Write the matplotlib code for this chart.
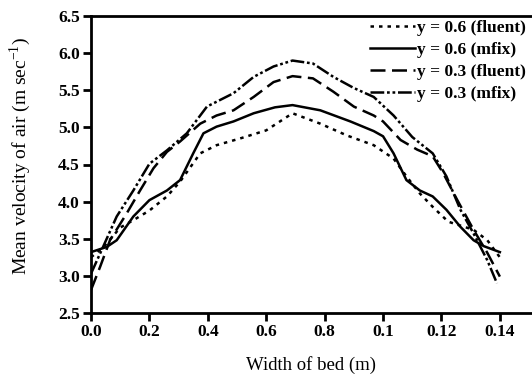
import numpy as np
import matplotlib.pyplot as plt

plt.rcParams["font.family"] = ["Liberation Serif", "DejaVu Serif"]
plt.rcParams["mathtext.fontset"] = "custom"
plt.rcParams["mathtext.rm"] = "Liberation Serif"

# bed width (m) and mean air velocity (m/s) for each case
x_f06 = [0.0, 0.0043, 0.01, 0.0145, 0.02, 0.026, 0.0305, 0.0374, 0.043, 0.051,
         0.06, 0.069, 0.0785, 0.0877, 0.0968, 0.1036, 0.108, 0.1126, 0.117,
         0.1223, 0.131, 0.1357, 0.14]
v_f06 = [3.25, 3.39, 3.65, 3.75, 3.88, 4.07, 4.27, 4.65, 4.76, 4.85,
         4.96, 5.19, 5.05, 4.89, 4.76, 4.58, 4.34, 4.11, 3.93,
         3.73, 3.62, 3.48, 3.25]

x_m06 = [0.0, 0.0054, 0.0088, 0.0145, 0.02, 0.026, 0.0305, 0.035, 0.0385, 0.043,
         0.0488, 0.0557, 0.063, 0.069, 0.0785, 0.0888, 0.0968, 0.1, 0.1036,
         0.108, 0.1126, 0.117, 0.1217, 0.1265, 0.131, 0.1345, 0.14]
v_m06 = [3.32, 3.39, 3.48, 3.8, 4.02, 4.15, 4.29, 4.65, 4.92, 5.01,
         5.08, 5.19, 5.27, 5.3, 5.23, 5.08, 4.95, 4.88, 4.65,
         4.29, 4.15, 4.07, 3.89, 3.66, 3.48, 3.4, 3.32]

x_f03 = [0.0, 0.0031, 0.0065, 0.0122, 0.0168, 0.0214, 0.026, 0.0305, 0.0374, 0.043,
         0.0488, 0.0557, 0.0625, 0.069, 0.076, 0.083, 0.09, 0.0968, 0.1,
         0.106, 0.1117, 0.117, 0.1205, 0.1253, 0.131, 0.1357, 0.14]
v_f03 = [2.81, 3.12, 3.48, 3.84, 4.15, 4.45, 4.67, 4.81, 5.05, 5.16,
         5.23, 5.41, 5.61, 5.69, 5.66, 5.48, 5.28, 5.16, 5.08,
         4.83, 4.7, 4.61, 4.39, 4.03, 3.62, 3.31, 2.99]

x_m03 = [0.0, 0.0031, 0.0088, 0.0145, 0.02, 0.026, 0.0328, 0.0397, 0.0488, 0.0557,
         0.0625, 0.069, 0.076, 0.083, 0.09, 0.0968, 0.1036, 0.11, 0.117,
         0.1217, 0.1265, 0.131, 0.1357, 0.139]
v_m03 = [3.03, 3.3, 3.8, 4.15, 4.51, 4.69, 4.92, 5.28, 5.46, 5.68,
         5.82, 5.9, 5.86, 5.68, 5.53, 5.41, 5.16, 4.87, 4.65,
         4.34, 3.89, 3.57, 3.21, 2.9]

xticks = [0.0, 0.02, 0.04, 0.06, 0.08, 0.10, 0.12, 0.14]
xtick_labels = ["0.0", "0.2", "0.4", "0.6", "0.8", "0.1", "0.12", "0.14"]
yticks = [2.5, 3.0, 3.5, 4.0, 4.5, 5.0, 5.5, 6.0, 6.5]

fig = plt.figure(figsize=(5.32, 3.83), dpi=100)
ax = fig.add_axes([91 / 532, 1 - 313 / 383, 1 - 91 / 532, 297 / 383])

lw = 1.8
ax.plot(x_f06, v_f06, color="k", lw=lw, dashes=(1.4, 2.0), label="y = 0.6 (fluent)")
ax.plot(x_m06, v_m06, color="k", lw=lw, label="y = 0.6 (mfix)")
ax.plot(x_f03, v_f03, color="k", lw=lw, dashes=(6, 2.6), label="y = 0.3 (fluent)")
ax.plot(x_m03, v_m03, color="k", lw=lw, dashes=(5.5, 1.1, 1.1, 1.1, 1.1, 1.1),
        label="y = 0.3 (mfix)")

ax.set_xlim(0, 0.151)
ax.set_ylim(2.5, 6.5)
ax.set_xticks(xticks)
ax.set_xticklabels(xtick_labels)
ax.set_yticks(yticks)
ax.set_yticklabels([f"{t:.1f}" for t in yticks])
ax.tick_params(direction="out", length=6, width=2, labelsize=12.5, pad=2)
for lab in ax.get_xticklabels() + ax.get_yticklabels():
    lab.set_fontweight("bold")
for side in ("left", "bottom", "top"):
    ax.spines[side].set_linewidth(2)
ax.spines["right"].set_visible(False)

ax.set_xlabel("Width of bed (m)", fontsize=13.5)
ax.xaxis.set_label_coords(0.5, -43 / 297)
ax.set_ylabel("Mean velocity of air (m sec$^{-1}$)", fontsize=14)
ax.yaxis.set_label_coords(-58 / 441, 0.53)

ax.legend(loc="upper left", bbox_to_anchor=(370 / 532, 1 - 20 / 383),
          bbox_transform=fig.transFigure, frameon=False,
          prop={"size": 12.5, "weight": "bold"},
          handlelength=2.6, handletextpad=0.1, labelspacing=0.33,
          borderpad=0, borderaxespad=0)

fig.savefig("out.png", dpi=100)
